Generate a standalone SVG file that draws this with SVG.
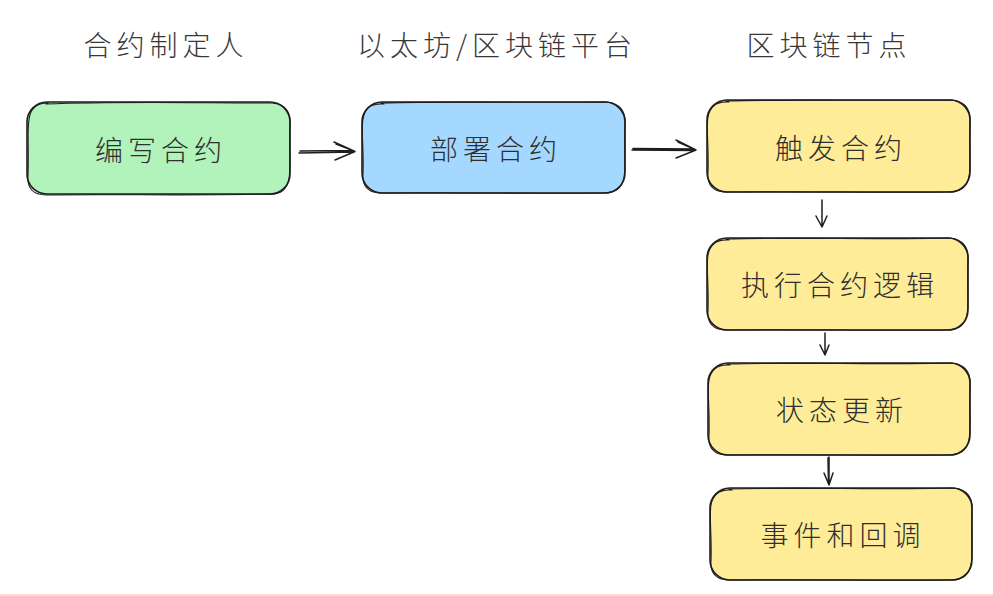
<svg xmlns="http://www.w3.org/2000/svg" width="993" height="596" viewBox="0 0 993 596">
<defs>
<style>
.box{stroke:#1e1e1e;stroke-width:1.6;stroke-linecap:round;stroke-linejoin:round}
.box2{fill:none;stroke:#1e1e1e;stroke-width:1.1;stroke-linecap:round;stroke-linejoin:round}
.green{fill:#b2f2bb}.blue{fill:#a5d8ff}.yellow{fill:#ffec99}
.t{font-family:"Noto Sans CJK SC","Noto Sans",sans-serif;font-weight:300;fill:#2f2f2f;text-anchor:middle;dominant-baseline:central}
.lbl{font-size:28px;letter-spacing:5px}
.hdr{font-size:28px;letter-spacing:5px;fill:#383838}
.arr{fill:none;stroke:#1e1e1e;stroke-width:1.5;stroke-linecap:round;stroke-linejoin:round}
</style>
</defs>
<rect width="993" height="596" fill="#ffffff"/>
<line x1="0" y1="595" x2="993" y2="595" stroke="#ffcccc" stroke-width="1.5"/>

<g id="header-1"><text class="t hdr" x="166" y="44">合约制定人</text></g>
<g id="header-2"><text class="t hdr" x="497" y="44">以太坊/区块链平台</text></g>
<g id="header-3"><text class="t hdr" x="829" y="44">区块链节点</text></g>

<g id="node-write">
<rect class="box green" x="27" y="102" width="263" height="92" rx="20"/>
<path class="box2" d="M46 104 C120 101 200 103 272 103 C286 104 291 113 290 124 C289 150 291 170 289 178 C287 190 281 195 268 194 C200 196 110 194 46 195 C33 195 27 188 28 176 C29 150 27 130 29 120 C30 109 36 103 48 103"/>
<text class="t lbl" x="161" y="149">编写合约</text>
</g>

<g id="node-deploy">
<rect class="box blue" x="362" y="102" width="263" height="91" rx="20"/>
<path class="box2" d="M381 103 C450 101 540 103 607 102 C620 103 626 112 625 124 C624 150 626 168 624 177 C622 189 615 193 603 193 C540 194 450 192 381 193 C368 193 362 186 363 174 C364 150 361 130 363 119 C365 107 372 103 384 104"/>
<text class="t lbl" x="496" y="148">部署合约</text>
</g>

<g id="node-trigger">
<rect class="box yellow" x="707" y="100" width="263" height="92" rx="20"/>
<path class="box2" d="M726 101 C800 99 880 101 952 100 C965 101 971 110 970 122 C969 148 971 168 969 176 C967 188 960 192 948 192 C880 193 800 191 726 192 C713 192 707 185 708 173 C709 148 706 128 708 117 C710 106 717 101 729 102"/>
<text class="t lbl" x="841" y="147">触发合约</text>
</g>

<g id="node-execute">
<rect class="box yellow" x="707" y="238" width="261" height="92" rx="20"/>
<path class="box2" d="M726 239 C800 237 880 240 950 238 C963 239 969 248 968 260 C967 286 969 306 967 314 C965 326 958 330 946 330 C880 331 800 329 726 330 C713 330 707 323 708 311 C709 286 706 266 708 255 C710 244 717 239 729 240"/>
<text class="t lbl" x="840" y="284">执行合约逻辑</text>
</g>

<g id="node-state">
<rect class="box yellow" x="708" y="363" width="262" height="92" rx="20"/>
<path class="box2" d="M727 364 C800 362 880 365 952 363 C965 364 971 373 970 385 C969 411 971 431 969 439 C967 451 960 455 948 455 C880 456 800 454 727 455 C714 455 708 448 709 436 C710 411 707 391 709 380 C711 369 718 364 730 365"/>
<text class="t lbl" x="842" y="409">状态更新</text>
</g>

<g id="node-event">
<rect class="box yellow" x="710" y="488" width="262" height="92" rx="20"/>
<path class="box2" d="M729 489 C800 487 880 490 954 488 C967 489 973 498 972 510 C971 536 973 556 971 564 C969 576 962 580 950 580 C880 581 800 579 729 580 C716 580 710 573 711 561 C712 536 709 516 711 505 C713 494 720 489 732 490"/>
<text class="t lbl" x="843" y="534">事件和回调</text>
</g>

<g id="connectors">
<path class="arr" d="M299 153 L354 152 M300 151 L353 150.5 M334 142 L355 151.5 L335 160 M336 144 L354 151"/>
<path class="arr" d="M632 150 L695 150.5 M633 148.5 L694 149 M676 140 L696 150 L676 158 M678 142 L695 149.5"/>
<path class="arr" d="M822 200 L822 226 M816 216 L822 227 L827 216"/>
<path class="arr" d="M825 333 L825 355 M820 345 L825 355 L829 345"/>
<path class="arr" d="M829 457 L829 484 M824 473 L829 485 L833 473 M828 458 L828.5 483"/>
</g>
</svg>
